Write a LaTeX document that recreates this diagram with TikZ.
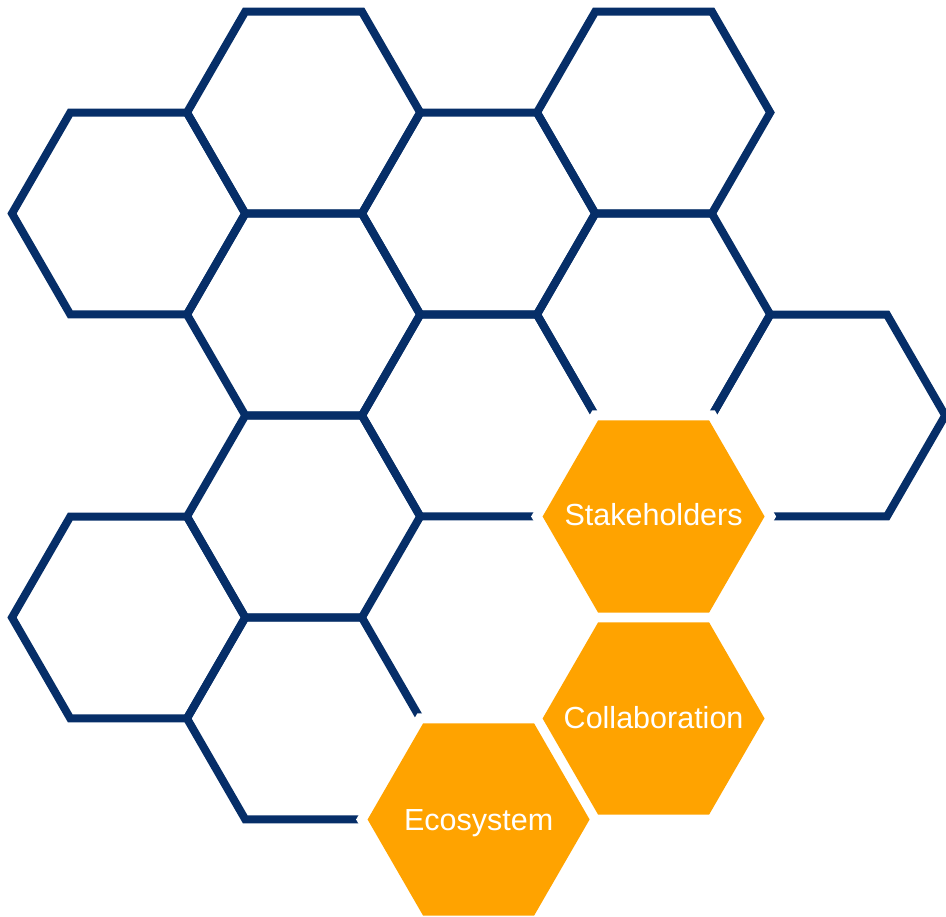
\documentclass[tikz,border=0pt]{standalone}
\usepackage{fontspec}
\setmainfont{Liberation Sans}
\usetikzlibrary{shapes.geometric}
\definecolor{navy}{RGB}{6,46,104}
\definecolor{hexorange}{RGB}{255,163,0}
\tikzset{
  gridhex/.style={regular polygon, regular polygon sides=6, minimum size=233.2pt,
    inner sep=0pt, outer sep=0pt, draw=navy, line width=8pt, line join=miter},
  gaphex/.style={regular polygon, regular polygon sides=6, minimum size=245pt,
    inner sep=0pt, outer sep=0pt, fill=white},
  orangehex/.style={regular polygon, regular polygon sides=6, minimum size=222pt,
    inner sep=0pt, outer sep=0pt, fill=hexorange},
  hextext/.style={text=white, font=\fontsize{30.5}{36}\selectfont, anchor=base, inner sep=0pt}
}
\begin{document}
\begin{tikzpicture}[x=1pt,y=-1pt]
\useasboundingbox (0,0) rectangle (946,917);
% blue grid
\node[gridhex] (hB) at (128.6,213.5) {};
\node[gridhex] (hJ) at (128.6,617.5) {};
\node[gridhex] (hA) at (303.6,112.5) {};
\node[gridhex] (hE) at (303.6,314.5) {};
\node[gridhex] (hH) at (303.6,516.5) {};
\node[gridhex] (hK) at (303.6,718.5) {};
\node[gridhex] (hC) at (478.6,213.5) {};
\node[gridhex] (hI) at (478.6,415.5) {};
\node[gridhex] (hD) at (653.6,112.5) {};
\node[gridhex] (hF) at (653.6,314.5) {};
\node[gridhex] (hG) at (828.6,415.5) {};
% white gaps
\node[gaphex] (gS) at (653.6,516.5) {};
\node[gaphex] (gC) at (653.6,718.5) {};
\node[gaphex] (gE) at (478.6,819.5) {};
% orange hexagons
\node[orangehex] (oS) at (653.6,516.5) {};
\node[orangehex] (oC) at (653.6,718.5) {};
\node[orangehex] (oE) at (478.6,819.5) {};
\node[hextext] (tS) at (653.6,525.5) {Stakeholders};
\node[hextext] (tC) at (653.6,728.5) {Collaboration};
\node[hextext] (tE) at (478.6,830) {Ecosystem};
\end{tikzpicture}
\end{document}
